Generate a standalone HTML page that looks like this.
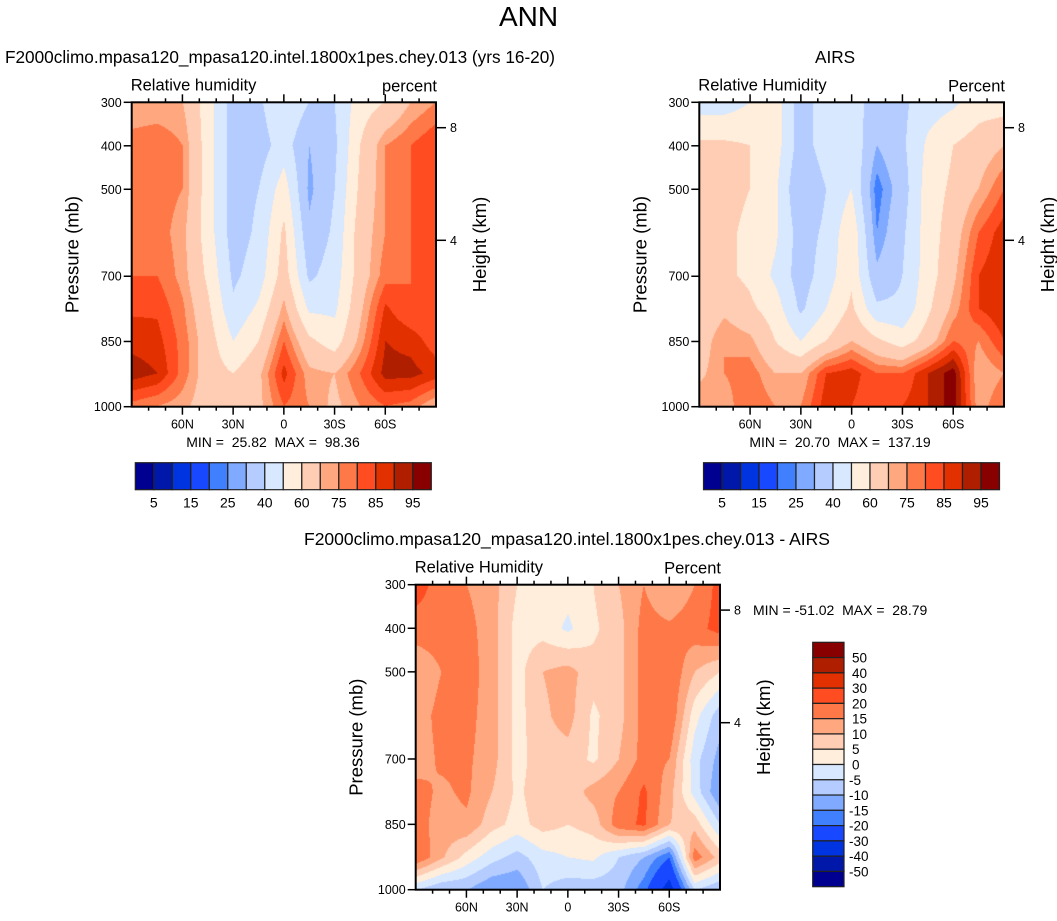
<!DOCTYPE html>
<html><head><meta charset="utf-8">
<style>
body{margin:0;background:#fff;width:1057px;height:921px;overflow:hidden;font-family:"Liberation Sans",Arial,sans-serif;}
#root{position:relative;width:1057px;height:921px;}
.t{position:absolute;white-space:nowrap;color:#000;}
canvas{position:absolute;}
svg{position:absolute;left:0;top:0;}
svg text{white-space:pre;}
</style></head>
<body>
<div id="root">
<div class="t" style="left:0;width:1057px;text-align:center;top:1px;font-size:28px;">ANN</div>
<div class="t" style="left:5px;top:47px;font-size:17.2px;">F2000climo.mpasa120_mpasa120.intel.1800x1pes.chey.013 (yrs 16-20)</div>
<div class="t" style="left:815px;top:47px;font-size:17.2px;">AIRS</div>
<div class="t" style="left:0;width:1134px;text-align:center;top:529px;font-size:17.5px;">F2000climo.mpasa120_mpasa120.intel.1800x1pes.chey.013 - AIRS</div>
<canvas id="c1"></canvas>
<canvas id="c2"></canvas>
<canvas id="c3"></canvas>
<svg id="ov" width="1057" height="921"></svg>
</div>
<script>
// ---- data ----
const lats = ["90N","75N","60N","45N","30N","15N","0","15S","30S","45S","60S","75S","90S"];
const pressures = [300,400,500,600,700,775,850,925,1000];
const modelRH = [
[70,70,70,55,35,38,50,40,40,55,60,70,75],
[78,80,75,55,35,35,45,30,38,60,75,80,85],
[78,78,75,55,35,40,55,28,40,62,75,80,85],
[78,78,72,55,35,42,62,32,42,65,75,80,85],
[80,80,73,58,38,45,65,38,45,65,78,80,82],
[84,84,76,62,42,52,72,48,48,68,86,80,80],
[88,87,78,65,50,60,80,62,55,72,90,88,82],
[93,90,78,65,60,68,87,72,70,80,92,92,88],
[78,75,72,65,62,68,80,75,68,75,80,78,70]];
const obsRH = [
[45,45,50,55,35,45,45,35,38,45,48,55,55],
[62,62,60,55,35,45,48,30,38,52,60,65,70],
[68,63,60,52,30,40,50,22,35,55,62,70,80],
[65,62,58,52,35,42,58,25,38,55,65,80,88],
[62,62,58,48,35,45,58,32,40,55,68,85,90],
[62,68,62,55,38,50,62,42,42,58,72,85,90],
[65,75,72,60,50,60,70,62,55,65,80,75,85],
[68,75,78,70,70,85,88,80,80,90,98,70,75],
[75,72,80,75,75,88,85,80,85,90,98,72,80]];
const diffRH = [
[22,18,15,12,5,3,2,5,10,15,10,15,22],
[18,18,17,12,3,3,-1,4,8,17,16,18,22],
[10,15,18,12,3,10,12,7,8,17,20,10,5],
[12,17,17,12,3,9,12,4,8,17,20,2,-8],
[12,16,16,12,3,8,8,4,10,17,15,-3,-12],
[17,14,16,10,4,8,7,12,15,21,12,-2,-15],
[17,13,14,7,3,7,5,7,18,21,10,8,-5],
[20,11,3,-3,-7,-2,0,1,-5,-10,-20,18,8],
[-5,-10,-10,-15,-15,-5,-8,-8,-8,-18,-35,-5,-10]];
const levelsRH = [5,10,15,20,25,30,40,50,60,70,75,80,85,90,95];
const labelsRH = ["5","15","25","40","60","75","85","95"];
const levelsDiff = [-50,-40,-30,-20,-15,-10,-5,0,5,10,15,20,30,40,50];
const labelsDiff = ["50","40","30","20","15","10","5","0","-5","-10","-15","-20","-30","-40","-50"];
const colors = ["#000090","#0018aa","#0034e0","#1848ff","#4080ff","#80aaff","#b4ccff","#d8e8ff","#ffeedc","#ffcdb4","#ffa880","#ff7848","#ff4c20","#e23000","#b01e00","#880000"];
const latTicks = [["60N",60],["30N",30],["0",0],["30S",-30],["60S",-60]];
const pTicks = [300,400,500,700,850,1000];
const hTicks = [["8",127.7-102.3],["4",240.3-102.3]];

const NS="http://www.w3.org/2000/svg";
const ov=document.getElementById('ov');
function el(tag,attrs,parent){const e=document.createElementNS(NS,tag);for(const k in attrs)e.setAttribute(k,attrs[k]);(parent||ov).appendChild(e);return e;}
function txt(x,y,s,size,anchor,parent){const e=el('text',{x:x,y:y,'font-size':size,'text-anchor':anchor||'start','font-family':'Liberation Sans, Arial, sans-serif'},parent);e.textContent=s;return e;}

function colorIdx(v,levels){let i=0;while(i<levels.length&&v>=levels[i])i++;return Math.min(i,colors.length-1);}

function panel(id,name,data,levels,L,T,R,B,topLeft,topRight){
  const W=Math.round(R-L),H=Math.round(B-T);
  const xs=v=>L+(90-v)/180*(R-L);
  const ys=p=>T+(p-300)/700*(B-T);
  const cv=document.getElementById(id);
  cv.width=W;cv.height=H;cv.style.left=L+'px';cv.style.top=T+'px';
  const ctx=cv.getContext('2d');
  const nC=lats.length;
  for(let py=0;py<H;py++){
    const p=300+(py+0.5)/H*700;
    let r=0;while(r<pressures.length-2&&p>pressures[r+1])r++;
    const fr=Math.max(0,Math.min(1,(p-pressures[r])/(pressures[r+1]-pressures[r])));
    for(let px=0;px<W;px++){
      const fc=(px+0.5)/W*(nC-1);
      const c=Math.min(nC-2,Math.floor(fc));const f=fc-c;
      const v=(1-fr)*((1-f)*data[r][c]+f*data[r][c+1])+fr*((1-f)*data[r+1][c]+f*data[r+1][c+1]);
      ctx.fillStyle=colors[colorIdx(v,levels)];
      ctx.fillRect(px,py,1,1);
    }
  }
  const g=el('g',{});
  
  
  const fr=el('rect',{x:L,y:T,width:R-L,height:B-T,fill:'none',stroke:'#000','stroke-width':2},g);
  
  
  for(let v=80;v>=-80;v-=10){
    const x=xs(v);const major=(v%30===0);const len=major?8:4;
    el('line',{x1:x,y1:B,x2:x,y2:B+len,stroke:'#000','stroke-width':1.5},g);
    el('line',{x1:x,y1:T,x2:x,y2:T-len,stroke:'#000','stroke-width':1.5},g);
  }
  latTicks.forEach(t=>{const lt=txt(xs(t[1]),B+22,t[0],12.5,'middle',g);});
  pTicks.forEach(p=>{el('line',{x1:L-8,y1:ys(p),x2:L,y2:ys(p),stroke:'#000','stroke-width':1.5},g);
    const lt=txt(L-10,ys(p)+4.5,String(p),12.5,'end',g);});
  hTicks.forEach(h=>{el('line',{x1:R,y1:T+h[1],x2:R+10,y2:T+h[1],stroke:'#000','stroke-width':1.5},g);
    const lt=txt(R+14,T+h[1]+4.5,h[0],12.5,'start',g);});
  const a=txt(0,0,'Pressure (mb)',18.5,'middle',g);a.setAttribute('transform',`translate(${L-53},${(T+B)/2}) rotate(-90)`);
  
  const b=txt(0,0,'Height (km)',18.5,'middle',g);b.setAttribute('transform',`translate(${R+50},${(T+B)/2-10}) rotate(-90)`);
  
  const tl=txt(L-1,T-12,topLeft,16.5,'start',g);
  const tr=txt(R+1,T-11,topRight,16.5,'end',g);
  return {xs:xs};
}
panel('c1','model',modelRH,levelsRH,131.7,102.3,436,406.7,'Relative humidity','percent');
panel('c2','obs',obsRH,levelsRH,699.3,102.3,1004,406.7,'Relative Humidity','Percent');
panel('c3','diff',diffRH,levelsDiff,415.7,584.7,720,889.7,'Relative Humidity','Percent');

function mm(x,y,s,anchor){const e=txt(x,y,s,14,anchor);}
mm(273,447,'MIN =  25.82  MAX =  98.36','middle');
mm(840,447,'MIN =  20.70  MAX =  137.19','middle');
mm(753,615,'MIN = -51.02  MAX =  28.79','start');

function hbar(L,R,T,B,name){
  const g=el('g',{});
  const w=(R-L)/colors.length;
  colors.forEach((c,i)=>{const r=el('rect',{x:L+i*w,y:T,width:w,height:B-T,fill:c,stroke:'#222','stroke-width':1.2},g);
    });
  labelsRH.forEach((s,k)=>{const lt=txt(L+(2*k+1)*w,B+18,s,14,'middle',g);});
}
hbar(135.3,431.3,462.7,489.7,'model-colorbar');
hbar(703.5,999.5,462.7,489.7,'obs-colorbar');
(function(){
  const L=812.7,R=844,T=642.3,B=886.7;
  const g=el('g',{});
  const h=(B-T)/colors.length;
  colors.slice().reverse().forEach((c,i)=>{const r=el('rect',{x:L,y:T+i*h,width:R-L,height:h,fill:c,stroke:'#222','stroke-width':1.2},g);
    });
  labelsDiff.forEach((s,k)=>{const lt=txt(s[0]==='-'?849:852,T+(k+1)*h+5,s,13.5,'start',g);});
})();
</script>
</body></html>
